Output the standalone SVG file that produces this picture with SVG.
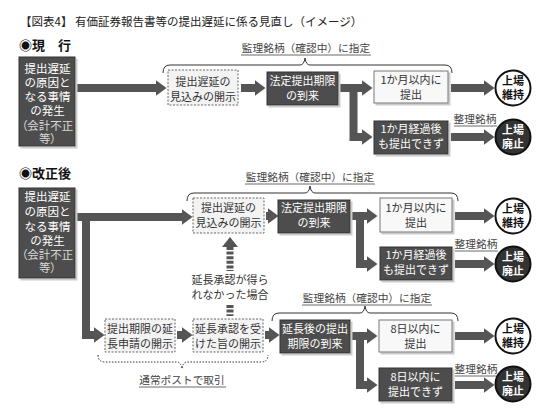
<svg xmlns="http://www.w3.org/2000/svg" width="550" height="418" viewBox="0 0 550 418">
<defs>
<marker id="ah" viewBox="0 0 11 16" refX="0.5" refY="8" markerWidth="11" markerHeight="16" markerUnits="userSpaceOnUse" orient="auto">
<path d="M0,0 L11,8 L0,16 z" fill="#555"/>
</marker>
<filter id="sh" x="-10%" y="-10%" width="130%" height="130%">
<feOffset dx="2" dy="2" in="SourceAlpha" result="o"/>
<feColorMatrix in="o" type="matrix" values="0 0 0 0 0.6  0 0 0 0 0.6  0 0 0 0 0.6  0 0 0 1 0" result="c"/>
<feMerge><feMergeNode in="c"/><feMergeNode in="SourceGraphic"/></feMerge>
</filter>
</defs>
<style>
text{font-family:"Noto Sans CJK JP","Noto Sans",sans-serif;}
.dk{fill:#4d4d4d;stroke:#333;stroke-width:1;filter:url(#sh);}
.lt{fill:#f8f8f8;stroke:#777;stroke-width:1;filter:url(#sh);}
.dt{fill:#f3f3f3;stroke:#666;stroke-width:1;stroke-dasharray:2 1.5;}
.wt{fill:#fff;font-size:11px;text-anchor:middle;}
.wt12{fill:#fff;font-size:11.5px;text-anchor:middle;}
.wg{fill:#d8d8d8;font-size:11.5px;text-anchor:middle;font-feature-settings:"palt";}
.bt{fill:#333;font-size:11px;text-anchor:middle;}
.lab{fill:#444;font-size:10.7px;text-anchor:middle;}
.ul{stroke:#444;stroke-width:0.8;}
.cw{fill:#fff;stroke:#111;stroke-width:2;}
.cb{fill:#333;stroke:#111;stroke-width:2;}
.ctb{fill:#111;font-size:11px;font-weight:bold;text-anchor:middle;}
.ctw{fill:#fff;font-size:11px;font-weight:bold;text-anchor:middle;}
.ar{fill:none;stroke:#555;stroke-width:8;stroke-linejoin:miter;marker-end:url(#ah);}
.br{fill:none;stroke:#333;stroke-width:1;}
.brd{fill:none;stroke:#333;stroke-width:1;stroke-dasharray:1.5 1.5;}
</style>

<text x="20" y="26" font-size="11.5" fill="#222">【図表4】 有価証券報告書等の提出遅延に係る見直し（イメージ）</text>
<text x="19" y="50" font-size="13" font-weight="bold" fill="#111">◉現　行</text>
<text x="19" y="178" font-size="13" font-weight="bold" fill="#111">◉改正後</text>

<g id="connectors">
<!-- section 1 -->
<path class="ar" d="M77,88 H156"/>
<path class="ar" d="M241,88 H255"/>
<path class="ar" d="M339,88 H362"/>
<path class="ar" d="M353.5,88 V137 H362"/>
<path class="ar" d="M451,88 H484"/>
<path class="ar" d="M451,137 H484"/>
<!-- section 2 upper -->
<path class="ar" d="M77,217 H182"/>
<path class="ar" d="M266,216 H268"/>
<path class="ar" d="M351,216 H367"/>
<path class="ar" d="M360,216 V264 H367"/>
<path class="ar" d="M455,216 H484"/>
<path class="ar" d="M455,264 H484"/>
<!-- section 2 lower -->
<path class="ar" d="M86,217 V335 H94"/>
<path class="ar" d="M177,335 H182"/>
<path class="ar" d="M265,335 H269"/>
<path class="ar" d="M351,336 H367"/>
<path class="ar" d="M360,336 V385 H367"/>
<path class="ar" d="M455,336 H484"/>
<path class="ar" d="M455,385 H484"/>
<!-- dashed vertical arrow -->
<path d="M222,247 L230,237 L238,247 z" fill="#555"/>
<line x1="230" y1="247" x2="230" y2="271" stroke="#555" stroke-width="7" stroke-dasharray="3 1.6"/>
<line x1="230" y1="305" x2="230" y2="316" stroke="#555" stroke-width="7" stroke-dasharray="3 1.6"/>
<!-- braces -->
<path class="br" d="M163,73 Q163,65 170,65 H300 Q304,65 305,58 Q306,65 310,65 H445 Q452,65 452,73"/>
<path class="br" d="M187,201 Q187,193 194,193 H305 Q309,193 310,186 Q311,193 315,193 H451 Q458,193 458,201"/>
<path class="br" d="M272,321 Q272,313 279,313 H360 Q364,313 365,306 Q366,313 370,313 H451 Q458,313 458,321"/>
<path class="brd" d="M98,355 Q98,362 105,362 H177 Q181,362 182,369 Q183,362 187,362 H261 Q268,362 268,355"/>
</g>

<!-- labels -->
<g id="labels">
<text class="lab" x="306" y="52">監理銘柄（確認中）に指定</text>
<line class="ul" x1="241" y1="55" x2="371" y2="55"/>
<text class="lab" x="310" y="181">監理銘柄（確認中）に指定</text>
<line class="ul" x1="245" y1="184" x2="375" y2="184"/>
<text class="lab" x="367" y="302">監理銘柄（確認中）に指定</text>
<line class="ul" x1="302" y1="305" x2="432" y2="305"/>
<text class="lab" x="475" y="123">整理銘柄</text>
<line class="ul" x1="454" y1="126" x2="497" y2="126"/>
<text class="lab" x="476" y="248">整理銘柄</text>
<line class="ul" x1="455" y1="251" x2="498" y2="251"/>
<text class="lab" x="476" y="373">整理銘柄</text>
<line class="ul" x1="455" y1="376" x2="498" y2="376"/>
<text class="lab" x="182" y="384">通常ポストで取引</text>
<line class="ul" x1="139" y1="387" x2="226" y2="387"/>
<text class="bt" x="230" y="284">延長承認が得ら</text>
<text class="bt" x="230" y="299">れなかった場合</text>
</g>

<!-- Section 1 nodes -->
<g id="cause1">
<rect class="dk" x="19" y="57" width="56" height="89"/>
<text class="wt12" x="47.5" y="73">提出遅延</text>
<text class="wt12" x="47.5" y="87">の原因と</text>
<text class="wt12" x="47.5" y="101">なる事情</text>
<text class="wt12" x="47.5" y="115">の発生</text>
<text class="wg" x="47.5" y="130">（会計不正</text>
<text class="wg" x="47.5" y="143">等）</text>
</g>
<g id="disc1">
<rect class="dt" x="168" y="70" width="70" height="35"/>
<text class="bt" x="203" y="86">提出遅延の</text>
<text class="bt" x="203" y="101">見込みの開示</text>
</g>
<g id="deadline1">
<rect class="dk" x="267" y="72" width="71" height="33"/>
<text class="wt" x="302.5" y="85">法定提出期限</text>
<text class="wt" x="302.5" y="100">の到来</text>
</g>
<g id="within1">
<rect class="lt" x="374" y="71" width="74" height="32"/>
<text class="bt" x="411" y="84">1か月以内に</text>
<text class="bt" x="411" y="99">提出</text>
</g>
<g id="after1">
<rect class="dk" x="374" y="121" width="74" height="33"/>
<text class="wt" x="411" y="133">1か月経過後</text>
<text class="wt" x="411" y="148">も提出できず</text>
</g>
<g id="keep1">
<circle class="cw" cx="513" cy="88" r="17.5"/>
<text class="ctb" x="513" y="85">上場</text>
<text class="ctb" x="513" y="99">維持</text>
</g>
<g id="delist1">
<circle class="cb" cx="513" cy="137" r="17.5"/>
<text class="ctw" x="513" y="134">上場</text>
<text class="ctw" x="513" y="148">廃止</text>
</g>

<!-- Section 2 nodes -->
<g id="cause2">
<rect class="dk" x="19" y="188" width="56" height="90"/>
<text class="wt12" x="47.5" y="201">提出遅延</text>
<text class="wt12" x="47.5" y="216">の原因と</text>
<text class="wt12" x="47.5" y="231">なる事情</text>
<text class="wt12" x="47.5" y="245">の発生</text>
<text class="wg" x="47.5" y="259">（会計不正</text>
<text class="wg" x="47.5" y="272">等）</text>
</g>
<g id="disc2">
<rect class="dt" x="193" y="198" width="71" height="35"/>
<text class="bt" x="228.5" y="212">提出遅延の</text>
<text class="bt" x="228.5" y="227">見込みの開示</text>
</g>
<g id="deadline2">
<rect class="dk" x="278" y="200" width="72" height="33"/>
<text class="wt" x="314" y="212">法定提出期限</text>
<text class="wt" x="314" y="227">の到来</text>
</g>
<g id="within2">
<rect class="lt" x="380" y="198" width="72" height="34"/>
<text class="bt" x="416" y="212">1か月以内に</text>
<text class="bt" x="416" y="227">提出</text>
</g>
<g id="after2">
<rect class="dk" x="380" y="247" width="72" height="33"/>
<text class="wt" x="416" y="259">1か月経過後</text>
<text class="wt" x="416" y="274">も提出できず</text>
</g>
<g id="keep2">
<circle class="cw" cx="513" cy="216" r="17.5"/>
<text class="ctb" x="513" y="213">上場</text>
<text class="ctb" x="513" y="227">維持</text>
</g>
<g id="delist2">
<circle class="cb" cx="513" cy="264" r="17.5"/>
<text class="ctw" x="513" y="261">上場</text>
<text class="ctw" x="513" y="275">廃止</text>
</g>
<g id="extreq">
<rect class="dt" x="105" y="319" width="70" height="33"/>
<text class="bt" x="140" y="333">提出期限の延</text>
<text class="bt" x="140" y="348">長申請の開示</text>
</g>
<g id="extok">
<rect class="dt" x="193" y="319" width="70" height="33"/>
<text class="bt" x="228" y="333">延長承認を受</text>
<text class="bt" x="228" y="348">けた旨の開示</text>
</g>
<g id="deadline3">
<rect class="dk" x="280" y="320" width="70" height="33"/>
<text class="wt" x="315" y="333">延長後の提出</text>
<text class="wt" x="315" y="348">期限の到来</text>
</g>
<g id="within3">
<rect class="lt" x="379" y="320" width="73" height="32"/>
<text class="bt" x="415.5" y="333">8日以内に</text>
<text class="bt" x="415.5" y="348">提出</text>
</g>
<g id="after3">
<rect class="dk" x="379" y="368" width="73" height="33"/>
<text class="wt" x="415.5" y="381">8日以内に</text>
<text class="wt" x="415.5" y="396">提出できず</text>
</g>
<g id="keep3">
<circle class="cw" cx="513" cy="336" r="17.5"/>
<text class="ctb" x="513" y="333">上場</text>
<text class="ctb" x="513" y="347">維持</text>
</g>
<g id="delist3">
<circle class="cb" cx="513" cy="384" r="17.5"/>
<text class="ctw" x="513" y="381">上場</text>
<text class="ctw" x="513" y="395">廃止</text>
</g>
</svg>
